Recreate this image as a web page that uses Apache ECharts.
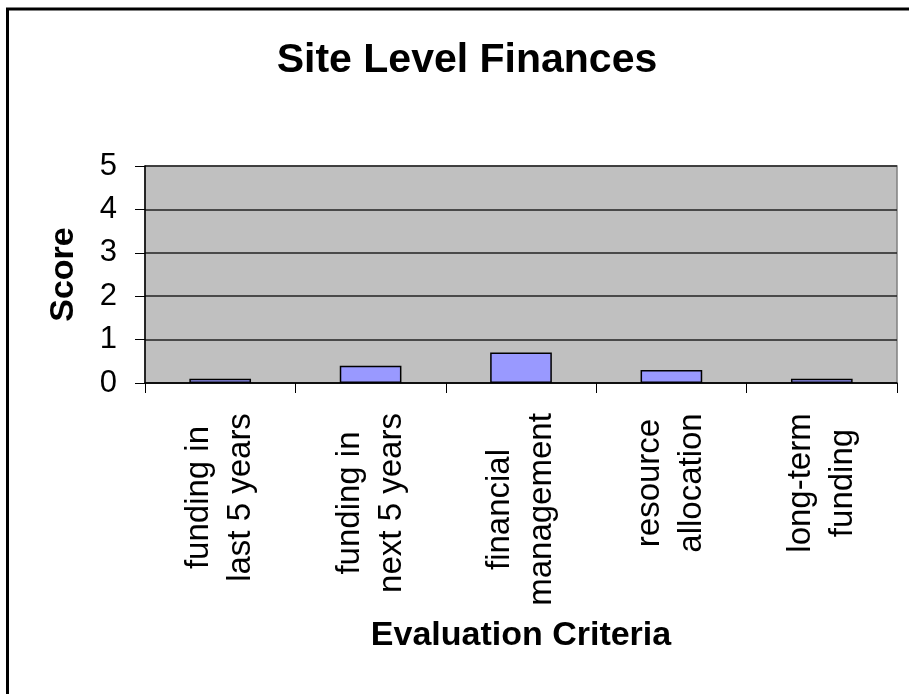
<!DOCTYPE html>
<html>
<head>
<meta charset="utf-8">
<title>Site Level Finances</title>
<script src="https://cdn.jsdelivr.net/npm/echarts@6/dist/echarts.min.js"></script>
<style>
  html, body { margin: 0; padding: 0; background: #fff; }
  #chart { width: 909px; height: 694px; }
</style>
</head>
<body>
<div id="chart"></div>
<script>
// data
const categories = [
  'funding in\nlast 5 years',
  'funding in\nnext 5 years',
  'financial\nmanagement',
  'resource\nallocation',
  'long-term\nfunding'
];
const scores = [0.1, 0.4, 0.7, 0.3, 0.1];
const scoreTicks = [0, 1, 2, 3, 4, 5];

const FONT = '"Liberation Sans", Arial, Helvetica, sans-serif';
const LABEL_SIZE = 33;

// each label block: longest line sets the width, lines centred inside it
const ctx = document.createElement('canvas').getContext('2d');
ctx.font = LABEL_SIZE + 'px ' + FONT;
const rich = {};
categories.forEach((cat, i) => {
  const w = Math.max(...cat.split('\n').map((s) => ctx.measureText(s).width));
  rich['w' + i] = {
    width: Math.ceil(w),
    align: 'center',
    fontSize: LABEL_SIZE,
    fontFamily: FONT,
    color: '#000',
    lineHeight: 42
  };
});

const chart = echarts.init(document.getElementById('chart'), null, { renderer: 'canvas' });

chart.setOption({
  animation: false,
  backgroundColor: '#fff',
  textStyle: { fontFamily: FONT },
  title: {
    text: 'Site Level Finances',
    left: 462,
    top: 35,
    textAlign: 'center',
    textStyle: { fontSize: 41, fontWeight: 'bold', color: '#000', fontFamily: FONT }
  },
  graphic: [{
    type: 'rect',
    shape: { x: 7.5, y: 9, width: 1000, height: 1000 },
    style: { fill: null, stroke: '#000', lineWidth: 3 },
    silent: true,
    z: 100
  }],
  grid: {
    left: 145,
    top: 166,
    right: 12,
    bottom: 311,
    show: true,
    backgroundColor: '#c0c0c0',
    borderColor: '#808080',
    borderWidth: 1.5,
    outerBoundsMode: 'none'
  },
  xAxis: {
    type: 'category',
    data: categories,
    name: 'Evaluation Criteria',
    nameLocation: 'middle',
    nameGap: 236,
    nameMoveOverlap: false,
    nameTextStyle: { fontSize: 34, fontWeight: 'bold', color: '#000', fontFamily: FONT },
    axisLine: { lineStyle: { color: '#000', width: 1.5 } },
    axisTick: { show: true, length: 10, lineStyle: { color: '#000', width: 1 } },
    axisLabel: {
      interval: 0,
      rotate: 90,
      margin: 30,
      formatter: (value, index) => value.split('\n').map((s) => '{w' + index + '|' + s + '}').join('\n'),
      rich: rich
    }
  },
  yAxis: {
    type: 'value',
    min: scoreTicks[0],
    max: scoreTicks[scoreTicks.length - 1],
    interval: 1,
    name: 'Score',
    nameLocation: 'middle',
    nameGap: 64,
    nameMoveOverlap: false,
    nameTextStyle: { fontSize: 34, fontWeight: 'bold', color: '#000', fontFamily: FONT },
    axisLine: { show: true, lineStyle: { color: '#000', width: 1.5 } },
    axisTick: { show: true, length: 10, lineStyle: { color: '#000', width: 1 } },
    axisLabel: { margin: 28, fontSize: 31, color: '#000', fontFamily: FONT },
    splitLine: { lineStyle: { color: '#222', width: 1.5 } }
  },
  series: [{
    type: 'bar',
    data: scores,
    barWidth: '41%',
    itemStyle: { color: '#9999ff', borderColor: '#000', borderWidth: 1.5 }
  }]
});
</script>
</body>
</html>
